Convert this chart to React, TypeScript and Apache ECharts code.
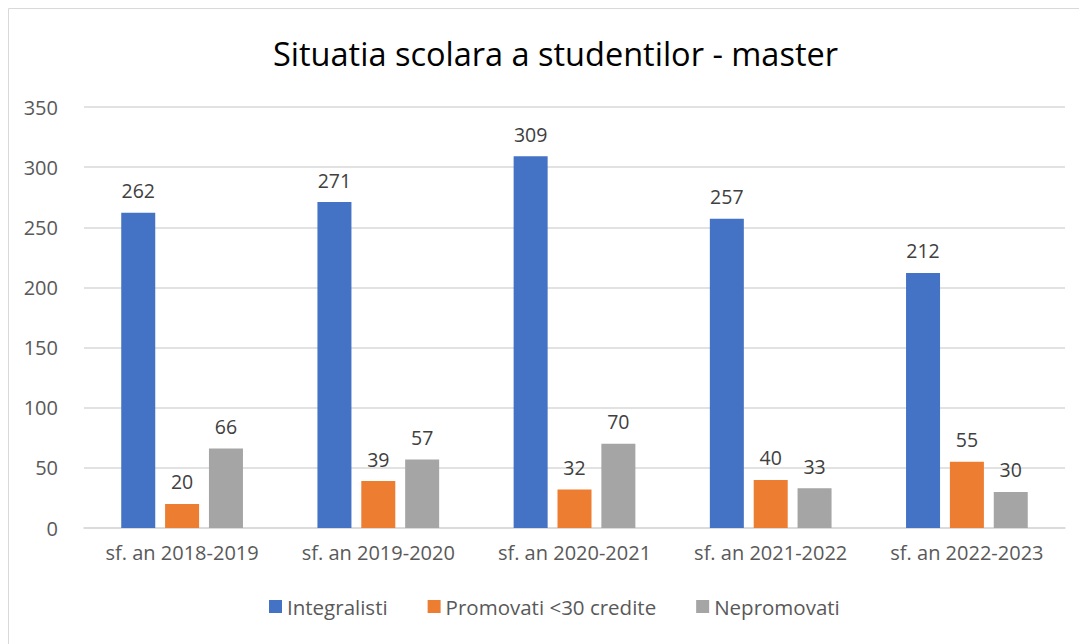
import React, { useEffect, useRef } from "react";
import * as echarts from "echarts";

const categories = ["sf. an 2018-2019", "sf. an 2019-2020", "sf. an 2020-2021", "sf. an 2021-2022", "sf. an 2022-2023"];
const integralisti = [262, 271, 309, 257, 212];
const promovati = [20, 39, 32, 40, 55];
const nepromovati = [66, 57, 70, 33, 30];
const seriesNames = ["Integralisti", "Promovati <30 credite", "Nepromovati"];
const colors = ["#4472C4", "#ED7D31", "#A5A5A5"];

const FONT = "'Open Sans', 'Noto Sans', sans-serif";

export default function App() {
  const ref = useRef<HTMLDivElement>(null);
  useEffect(() => {
    const chart = echarts.init(ref.current!, null, { renderer: "svg" });
    const data = [integralisti, promovati, nepromovati];
    chart.setOption({
      animation: false,
      backgroundColor: "#ffffff",
      textStyle: { fontFamily: FONT },
      graphic: [
        {
          type: "rect",
          shape: { x: 8.5, y: 8.5, width: 1100, height: 700 },
          style: { fill: "none", stroke: "#D9D9D9", lineWidth: 1 },
          silent: true,
        },
      ],
      title: {
        text: "Situatia scolara a studentilor - master",
        left: 268,
        top: 32,
        textStyle: { fontFamily: FONT, fontSize: 32.5, fontWeight: "normal", color: "#000000" },
      },
      legend: {
        bottom: 22,
        left: 264,
        itemWidth: 13,
        itemHeight: 13,
        itemGap: 40,
        icon: "rect",
        textStyle: { fontFamily: FONT, fontSize: 20.5, color: "#595959" },
        data: seriesNames,
      },
      grid: { left: 84, right: 14, top: 107, bottom: 116, containLabel: false },
      xAxis: {
        type: "category",
        data: categories,
        axisLine: { lineStyle: { color: "#D9D9D9", width: 1.5 } },
        axisTick: { show: false },
        axisLabel: { fontFamily: FONT, fontSize: 20, color: "#595959", margin: 14, interval: 0 },
      },
      yAxis: {
        type: "value",
        min: 0,
        max: 350,
        interval: 50,
        axisLine: { show: false },
        axisTick: { show: false },
        splitLine: { lineStyle: { color: "#D9D9D9", width: 1.5 } },
        axisLabel: { fontFamily: FONT, fontSize: 20, color: "#595959", margin: 26 },
      },
      series: seriesNames.map((name, i) => ({
        name,
        type: "bar",
        data: data[i],
        barWidth: 34,
        barGap: "29%",
        itemStyle: { color: colors[i] },
        label: {
          show: true,
          position: "top",
          distance: 12,
          fontFamily: FONT,
          fontSize: 19.5,
          color: "#404040",
        },
      })),
    });
    return () => chart.dispose();
  }, []);
  return <div ref={ref} style={{ position: "absolute", left: 0, top: 0, width: 1079, height: 644 }} />;
}
